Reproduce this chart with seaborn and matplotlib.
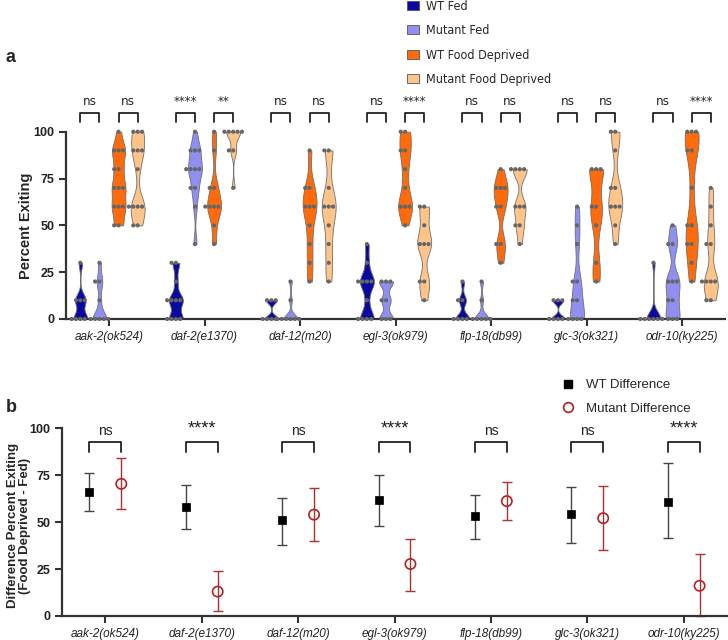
import numpy as np
import pandas as pd
import matplotlib
matplotlib.use("Agg")
import matplotlib.pyplot as plt
import seaborn as sns
from matplotlib.patches import Patch
from matplotlib.lines import Line2D
from matplotlib.font_manager import FontProperties

# =========================
# Data
# =========================

genotypes = ["aak-2(ok524)", "daf-2(e1370)", "daf-12(m20)", "egl-3(ok979)",
             "flp-18(db99)", "glc-3(ok321)", "odr-10(ky225)"]
conditions = ["WT Fed", "Mutant Fed", "WT Food Deprived", "Mutant Food Deprived"]
palette = ["#0A0AA0", "#8F8FF2", "#FF6A0A", "#FFC48A"]

# percent exiting per plate, one list per genotype
wt_fed = [
    [0, 0, 0, 0, 10, 10, 10, 30],
    [0, 0, 0, 0, 10, 10, 10, 10, 20, 30, 30],
    [0, 0, 0, 0, 10, 10, 10],
    [0, 0, 0, 0, 10, 20, 20, 20, 20, 30, 40],
    [0, 0, 0, 0, 10, 10, 20],
    [0, 0, 0, 0, 10, 10, 10],
    [0, 0, 0, 0, 0, 0, 30],
]
mut_fed = [
    [0, 0, 0, 0, 0, 10, 20, 20, 30],
    [40, 60, 70, 70, 80, 80, 80, 80, 90, 90, 90, 100],
    [0, 0, 0, 0, 0, 0, 10, 20],
    [0, 0, 0, 10, 10, 20, 20, 20],
    [0, 0, 0, 0, 0, 10, 20],
    [0, 0, 0, 0, 10, 10, 20, 20, 40, 50, 60],
    [0, 0, 0, 10, 10, 20, 20, 20, 40, 40, 50],
]
wt_fd = [
    [50, 50, 60, 60, 60, 70, 70, 70, 80, 80, 90, 90, 90, 100],
    [40, 50, 60, 60, 60, 60, 70, 70, 90, 100],
    [20, 30, 40, 50, 60, 60, 60, 70, 70, 90],
    [50, 60, 60, 60, 70, 80, 90, 90, 100, 100],
    [30, 40, 40, 60, 60, 70, 70, 70, 80],
    [20, 30, 50, 60, 60, 80, 80, 80],
    [20, 30, 40, 40, 50, 50, 70, 90, 90, 100, 100, 100],
]
mut_fd = [
    [50, 50, 60, 60, 60, 60, 80, 90, 90, 90, 100, 100, 100],
    [70, 90, 90, 100, 100, 100, 100, 100],
    [20, 30, 40, 50, 60, 60, 60, 70, 90, 90],
    [10, 20, 20, 40, 40, 40, 50, 60, 60],
    [40, 50, 50, 60, 60, 60, 80, 80, 80, 80],
    [40, 50, 60, 60, 60, 70, 70, 90, 100, 100],
    [10, 10, 20, 20, 20, 20, 40, 40, 50, 60, 70],
]
sig_fed = ["ns", "****", "ns", "ns", "ns", "ns", "ns"]
sig_fd = ["ns", "**", "ns", "****", "ns", "ns", "****"]

# panel b: difference (food deprived - fed), mean and error bar ends
wt_mean = [66, 58.3, 51, 62, 53.4, 54.6, 60.8]
wt_low = [56, 46.3, 38, 48, 41, 38.8, 41.7]
wt_high = [76, 70, 63, 75, 64.5, 68.8, 81.6]
mut_mean = [70.4, 13, 54, 27.7, 61.2, 52.1, 16.1]
mut_low = [57, 2.5, 40, 13.5, 51, 35, 0]
mut_high = [84, 24.1, 68, 41, 71.3, 69.1, 33]
sig_b = ["ns", "****", "ns", "****", "ns", "ns", "****"]

rows = []
for cond, groups in zip(conditions, [wt_fed, mut_fed, wt_fd, mut_fd]):
    for g, vals in zip(genotypes, groups):
        for v in vals:
            rows.append({"genotype": g, "condition": cond, "pct": v})
df = pd.DataFrame(rows)

# =========================
# Style
# =========================

sns.set_style("ticks")
plt.rcParams["font.family"] = ["Liberation Sans", "DejaVu Sans"]
cond_font = FontProperties(family="DejaVu Sans", stretch="condensed", size=9.5)
dark = "#333333"

fig = plt.figure(figsize=(7.28, 6.4), dpi=100)
ax1 = fig.add_axes([0.0907, 0.5016, 0.9053, 0.2926])
ax2 = fig.add_axes([0.0852, 0.0375, 0.9135, 0.2933])

# =========================
# Panel a: violins
# =========================

sns.violinplot(data=df, x="genotype", y="pct", hue="condition",
               order=genotypes, hue_order=conditions, palette=palette,
               saturation=1, width=0.8, gap=0.27, cut=0, density_norm="width",
               bw_adjust=0.5, inner=None, linewidth=0.6, linecolor="#707070",
               legend=False, ax=ax1)
sns.swarmplot(data=df, x="genotype", y="pct", hue="condition",
              order=genotypes, hue_order=conditions, dodge=True,
              palette=["#666666"] * 4, size=3, legend=False, ax=ax1)
for c in ax1.collections:
    c.set_clip_on(False)

ax1.set_xlim(-0.45, 6.45)
ax1.set_ylim(0, 100)
ax1.set_yticks([0, 25, 50, 75, 100])
ax1.set_xlabel("")
ax1.set_ylabel("Percent Exiting", fontsize=10.5, fontweight="bold")
ax1.yaxis.set_label_coords(-0.05, 0.5)

offs = [-0.3, -0.1, 0.1, 0.3]
for i in range(len(genotypes)):
    for (a, b), s in [((offs[0], offs[1]), sig_fed[i]), ((offs[2], offs[3]), sig_fd[i])]:
        ax1.plot([i + a, i + a, i + b, i + b], [105.3, 110, 110, 105.3],
                 color="#222222", lw=1.3, clip_on=False)
        ax1.text(i + (a + b) / 2, 112.5, s, ha="center", va="bottom",
                 fontproperties=cond_font, color="#222222")

# =========================
# Panel b: differences
# =========================

x = np.arange(len(genotypes))
wt_x = x - 0.165
mut_x = x + 0.165
wt_mean_a = np.array(wt_mean)
mut_mean_a = np.array(mut_mean)

ax2.errorbar(wt_x, wt_mean_a, yerr=[wt_mean_a - np.array(wt_low), np.array(wt_high) - wt_mean_a],
             fmt="none", ecolor="#444444", elinewidth=1, capsize=3.5, capthick=1)
ax2.errorbar(mut_x, mut_mean_a, yerr=[mut_mean_a - np.array(mut_low), np.array(mut_high) - mut_mean_a],
             fmt="none", ecolor="#B03030", elinewidth=1, capsize=3.5, capthick=1, clip_on=False)
sns.scatterplot(x=wt_x, y=wt_mean_a, marker="s", s=40, color="black",
                edgecolor="black", zorder=3, ax=ax2)
sns.scatterplot(x=mut_x, y=mut_mean_a, marker="o", s=55, facecolor="none",
                edgecolor="#B22222", linewidth=1.2, zorder=3, ax=ax2)

ax2.set_xlim(-0.45, 6.45)
ax2.set_ylim(0, 100)
ax2.set_yticks([0, 25, 50, 75, 100])
ax2.set_xticks(x)
ax2.set_ylabel("Difference Percent Exiting\n(Food Deprived - Fed)",
               fontsize=9.5, fontweight="bold", linespacing=1.1)
ax2.yaxis.set_label_coords(-0.046, 0.48)

for i, s in enumerate(sig_b):
    ax2.plot([wt_x[i], wt_x[i], mut_x[i], mut_x[i]], [87.5, 92.7, 92.7, 87.5],
             color="#222222", lw=1.3, clip_on=False)
    ax2.text(x[i], 95, s, ha="center", va="bottom",
             fontsize=10 if s == "ns" else 13, color="#222222")

# =========================
# Axes cosmetics
# =========================

for ax in (ax1, ax2):
    sns.despine(ax=ax)
    ax.spines["left"].set_bounds(0, 100)
    for sp in ("left", "bottom"):
        ax.spines[sp].set_linewidth(1.6)
        ax.spines[sp].set_color(dark)
    ax.tick_params(axis="both", width=1.5, length=5, color=dark)
    ax.set_xticks(range(len(genotypes)))
    ax.set_xticklabels(genotypes, fontsize=8.5, fontstyle="italic", color="#222222")
    for lab in ax.get_yticklabels():
        lab.set_fontweight("bold")
        lab.set_fontsize(9)
        lab.set_color("#222222")

# legends
handles_a = [Patch(facecolor=c, edgecolor="#555555", lw=0.6) for c in palette]
fig.legend(handles_a, conditions, loc="upper left", bbox_to_anchor=(0.559, 1.0),
           frameon=False, borderpad=0, borderaxespad=0, handlelength=0.95,
           handleheight=0.75, handletextpad=0.6, labelspacing=0.9,
           prop=FontProperties(family="DejaVu Sans", stretch="condensed", size=9))

handles_b = [Line2D([], [], ls="none", marker="s", ms=6, color="black"),
             Line2D([], [], ls="none", marker="o", ms=7, mfc="none", mec="#B22222", mew=1.2)]
fig.legend(handles_b, ["WT Difference", "Mutant Difference"], loc="upper left",
           bbox_to_anchor=(0.771, 1 - 379 / 640), frameon=False, borderpad=0, borderaxespad=0,
           handlelength=1.0, handletextpad=0.9, labelspacing=0.85, fontsize=9.5)

fig.text(0.008, 1 - 57 / 640, "a", fontsize=13, fontweight="bold", va="center")
fig.text(0.008, 1 - 408 / 640, "b", fontsize=13, fontweight="bold", va="center")

fig.savefig("out.png", dpi=100)
